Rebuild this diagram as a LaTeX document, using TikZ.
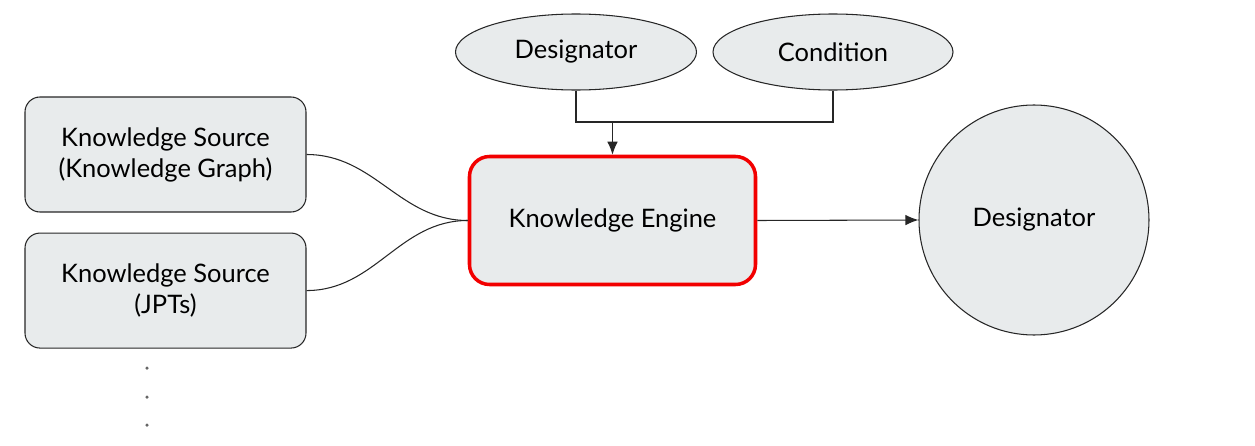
\documentclass[tikz,border=0pt]{standalone}
\usepackage{fontspec}
\setmainfont{Lato}
\usepackage{xcolor}
\usepackage{tikz}
\usetikzlibrary{shapes, arrows.meta, positioning}

\definecolor{boxgray}{HTML}{E8EBEC}
\definecolor{edgered}{HTML}{F20000}

\begin{document}
\begin{tikzpicture}[
                node distance=0.4cm,
                box/.style={rectangle, draw=black!85, fill=boxgray, line width=0.6pt, minimum width=5.62cm, minimum height=2.3cm, align=center, font=\fontsize{14.5}{17.6}\selectfont, rounded corners=0.3cm},
                engine/.style={rectangle, draw=edgered, fill=boxgray, line width=2pt, minimum width=5.72cm, minimum height=2.56cm, font=\fontsize{14.5}{17.6}\selectfont, rounded corners=0.4cm},
                oval/.style={ellipse, draw=black!85, fill=boxgray, line width=0.6pt, minimum width=4.82cm, minimum height=1.52cm, font=\fontsize{14.5}{17.6}\selectfont},
                round/.style={circle, draw=black!85, fill=boxgray, line width=0.6pt, minimum size=4.6cm, font=\fontsize{14.5}{17.6}\selectfont},
                dot/.style={circle, fill=black!60, inner sep=0pt, minimum size=0.07cm},
                arrow/.style={-{Latex[length=2.6mm, width=2.1mm]}, line width=0.6pt, draw=black!85},
                link/.style={line width=0.6pt, draw=black!85}
            ]
                \useasboundingbox (0,0) rectangle (25.1,-8.92);

                \node[box] (ks1) at (3.31,-3.09) {Knowledge Source\\(Knowledge Graph)};
                \node[box, below=of ks1] (ks2) {Knowledge Source\\(JPTs)};
                \node[engine] (engine) at (12.25,-4.41) {Knowledge Engine};
                \node[oval] (desig) at (11.52,-1.04) {Designator};
                \node[oval, minimum width=4.8cm] (cond) at (16.66,-1.04) {Condition};
                \node[round] (result) at (20.68,-4.4) {Designator};

                % dots below the sources
                \foreach \y [count=\i] in {-7.36,-7.94,-8.5}
                    \node[dot] (d\i) at (2.94,\y) {};

                \coordinate (join) at (engine.north |- 0,-2.44);

                \draw[link] (desig.south) |- (join);
                \draw[link] (cond.south) |- (join);
                \draw[arrow] (join) -- (engine.north);
                \draw[link] (ks1.east) to[out=0, in=180] (engine.west);
                \draw[link] (ks2.east) to[out=0, in=180] (engine.west);
                \draw[arrow] (engine.east) -- (result.west);
            \end{tikzpicture}
\end{document}
